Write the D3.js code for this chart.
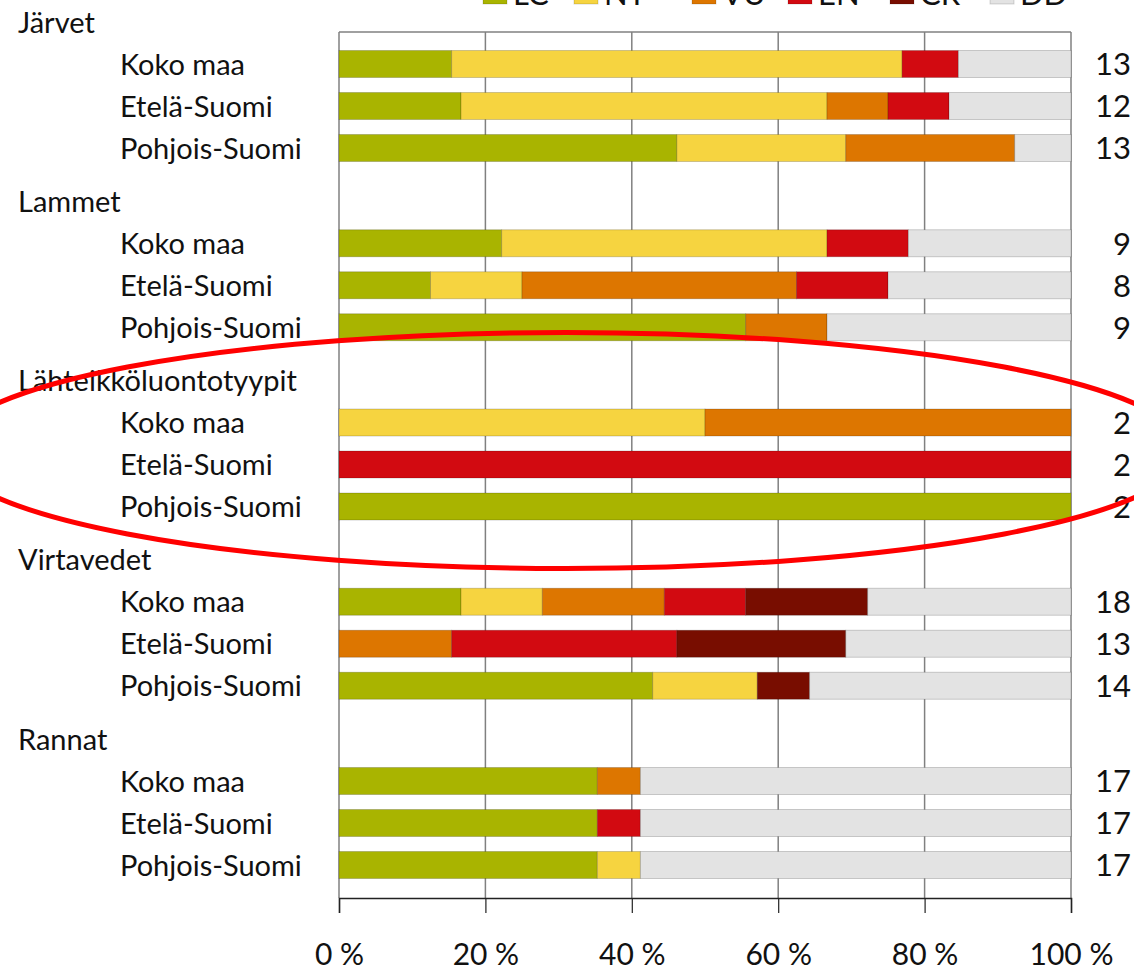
<!DOCTYPE html>
<html>
<head>
<meta charset="utf-8">
<script src="https://cdn.jsdelivr.net/npm/d3@7"></script>
<style>
  html, body { margin: 0; padding: 0; background: #fff; }
  svg { display: block; }
  text { font-family: "Lato", "DejaVu Sans", sans-serif; fill: #111; }
</style>
</head>
<body>
<svg id="chart" width="1134" height="974"></svg>
<script>
// ---- data (counts of habitat types per threat class) ----
const groups = ["Järvet", "Lammet", "Lähteikköluontotyypit", "Virtavedet", "Rannat"];
const regions = ["Koko maa", "Etelä-Suomi", "Pohjois-Suomi"];
const classes = ["LC", "NT", "VU", "EN", "CR", "DD"];
const classColors = ["#a9b400", "#f6d440", "#dd7600", "#d20a11", "#780d00", "#e3e3e3"];

// row order: for each group -> Koko maa, Etelä-Suomi, Pohjois-Suomi
const LC = [2, 2, 6,   2, 1, 5,   0, 0, 2,   3, 0, 6,   6, 6, 6];
const NT = [8, 6, 3,   4, 1, 0,   1, 0, 0,   2, 0, 2,   0, 0, 1];
const VU = [0, 1, 3,   0, 3, 1,   1, 0, 0,   3, 2, 0,   1, 0, 0];
const EN = [1, 1, 0,   1, 1, 0,   0, 2, 0,   2, 4, 0,   0, 1, 0];
const CR = [0, 0, 0,   0, 0, 0,   0, 0, 0,   3, 3, 1,   0, 0, 0];
const DD = [2, 2, 1,   2, 2, 3,   0, 0, 0,   5, 4, 5,  10, 10, 10];
const xTicks = [0, 0.2, 0.4, 0.6, 0.8, 1];
const xTickLabels = ["0 %", "20 %", "40 %", "60 %", "80 %", "100 %"];

const series = { LC, NT, VU, EN, CR, DD };
const rows = [];
groups.forEach((g, gi) => regions.forEach((r, ri) => {
  const i = gi * regions.length + ri;
  const row = { group: g, region: r };
  classes.forEach(c => row[c] = series[c][i]);
  row.n = classes.reduce((s, c) => s + row[c], 0);
  rows.push(row);
}));

const svg = d3.select("#chart");
const plotLeft = 339, plotRight = 1071, plotTop = 32, axisY = 898;

const x = d3.scaleLinear().domain([0, 1]).range([plotLeft, plotRight]);
const color = d3.scaleOrdinal().domain(classes).range(classColors);

// group offsets and rows within group (header + 3 regions)
const yGroup = d3.scaleBand().domain(groups).range([0, 5 * 179.25]);
const yRow = d3.scalePoint().domain(["header", ...regions]).range([0, 126]);
const yTop = 22;
const yPos = (g, r) => yTop + yGroup(g) + yRow(r);
const barH = 27;

// gridlines & frame
const gGrid = svg.append("g");
gGrid.selectAll("line.grid").data(xTicks).join("line")
  .attr("x1", d => x(d)).attr("x2", d => x(d))
  .attr("y1", plotTop).attr("y2", axisY)
  .attr("stroke", "#808080").attr("stroke-width", 1.5);
gGrid.append("line")
  .attr("x1", plotLeft).attr("x2", plotRight)
  .attr("y1", plotTop).attr("y2", plotTop)
  .attr("stroke", "#808080").attr("stroke-width", 1.5);

// stacked bars
const stack = d3.stack().keys(classes).offset(d3.stackOffsetExpand);
const stacked = stack(rows);
const gBars = svg.append("g");
gBars.selectAll("g.layer").data(stacked).join("g")
  .attr("fill", d => color(d.key))
  .selectAll("rect").data(d => d.filter(s => s[1] - s[0] > 0)).join("rect")
  .attr("x", d => x(d[0]))
  .attr("width", d => x(d[1]) - x(d[0]))
  .attr("y", d => yPos(d.data.group, d.data.region) - barH / 2)
  .attr("height", barH)
  .attr("stroke", "rgba(0,0,0,0.18)").attr("stroke-width", 1);

// x axis
const axis = d3.axisBottom(x).tickValues(xTicks)
  .tickFormat((d, i) => xTickLabels[i]).tickSize(15).tickPadding(31);
const gAxis = svg.append("g").attr("transform", `translate(0,${axisY})`).call(axis);
gAxis.select(".domain").attr("stroke", "#222").attr("stroke-width", 1.5);
gAxis.selectAll(".tick line").attr("stroke", "#222").attr("stroke-width", 1.2);
gAxis.selectAll(".tick text")
  .style("font-family", "Lato, sans-serif").style("font-size", "30px").attr("fill", "#111");

// group headers
svg.append("g").selectAll("text").data(groups).join("text")
  .attr("x", 18).attr("y", g => yPos(g, "header"))
  .attr("dy", "0.37em")
  .style("font-size", "29px").text(d => d);

// region labels
svg.append("g").selectAll("text").data(rows).join("text")
  .attr("x", 120).attr("y", d => yPos(d.group, d.region))
  .attr("dy", "0.37em")
  .style("font-size", "29px").text(d => d.region);

// n labels
svg.append("g").selectAll("text").data(rows).join("text")
  .attr("x", 1131).attr("y", d => yPos(d.group, d.region))
  .attr("dy", "0.37em").attr("text-anchor", "end")
  .style("font-size", "31px").text(d => d.n);

// legend (cut at top edge, as in the reference)
const legendX = [483, 574, 692, 788, 890, 990];
const gLeg = svg.append("g");
classes.forEach((c, i) => {
  gLeg.append("rect").attr("x", legendX[i]).attr("y", -16)
    .attr("width", 24).attr("height", 20).attr("fill", color(c))
    .attr("stroke", "rgba(0,0,0,0.15)");
  gLeg.append("text").attr("x", legendX[i] + 30).attr("y", 5)
    .style("font-size", "31px").text(c);
});

// red ellipse annotation around Lähteikköluontotyypit
svg.append("ellipse")
  .attr("cx", x(0.31)).attr("cy", yPos("Lähteikköluontotyypit", "Etelä-Suomi") - 14)
  .attr("rx", 620).attr("ry", 118)
  .attr("fill", "none").attr("stroke", "#ff0000").attr("stroke-width", 5);
</script>
</body>
</html>
